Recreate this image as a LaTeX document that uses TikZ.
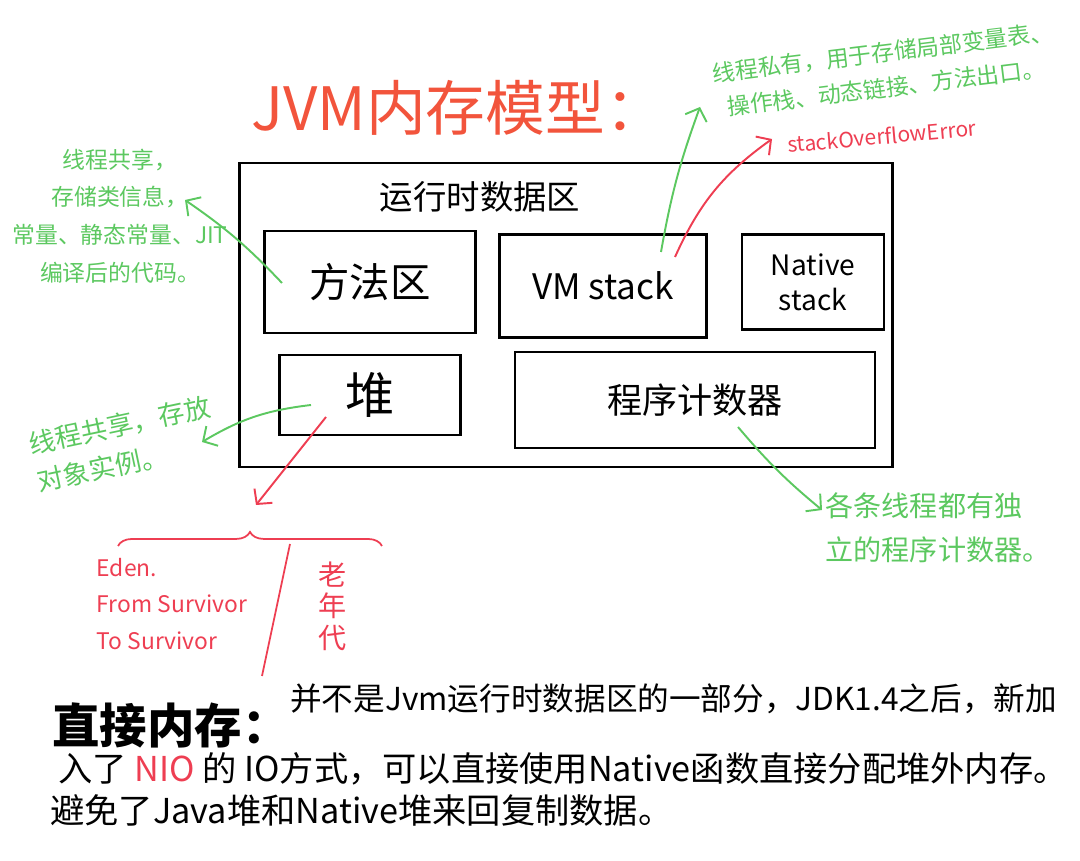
\documentclass[tikz,border=0pt]{standalone}
\usepackage{fontspec}
\setmainfont{Noto Sans CJK SC}
\usetikzlibrary{arrows.meta,decorations.pathreplacing}

\definecolor{grn}{RGB}{92,200,96}
\definecolor{rd}{RGB}{238,62,82}
\definecolor{ttl}{RGB}{242,84,60}

\newcommand{\fs}[2]{\fontsize{#1}{#2}\selectfont}

\begin{document}
\begin{tikzpicture}[
		x=0.02cm, y=-0.02cm,
		box/.style = {draw, line width=1.3pt, inner sep=0pt, align=center},
		gn/.style  = {text=grn, inner sep=0pt},
		rn/.style  = {text=rd, inner sep=0pt},
		g/.style   = {-{Straight Barb[length=6pt,width=13pt]}, grn, line width=1.1pt},
		r/.style   = {-{Straight Barb[length=6pt,width=13pt]}, rd, line width=1.1pt}
		]
		\useasboundingbox (0,0) rectangle (1080,861);
		
		% === === Nodes === ===
		\node[text=ttl, font=\fs{34}{38}]	(title)	at	(458,108)	{JVM内存模型：};
		
		\node[box, minimum width=13.06cm, minimum height=6.08cm]	(area)	at	(566,315)	{};
		\node[font=\fs{19}{23}]	(lbl)	at	(480,197)	{运行时数据区};
		
		\node[box, minimum width=4.22cm, minimum height=2.04cm, font=\fs{23}{28}]	(meth)	at	(370,282)	{方法区};
		\node[box, minimum width=4.14cm, minimum height=2.06cm, font=\fs{20}{24}]	(vms)	at	(603,286)	{VM stack};
		\node[box, minimum width=2.84cm, minimum height=1.90cm, font=\fs{16}{20}]	(nats)	at	(813,282)	{Native\\stack};
		\node[box, minimum width=3.62cm, minimum height=1.60cm, font=\fs{28}{32}]	(heap)	at	(370,395)	{堆};
		\node[box, minimum width=7.20cm, minimum height=1.92cm, font=\fs{20}{24}]	(pc)	at	(695,400)	{程序计数器};
		
		\node[gn, align=center, font=\fs{13}{21.5}]	(nMeth)	at	(120,216)	{线程共享，\\存储类信息，\\常量、静态常量、JIT\\编译后的代码。};
		\node[gn, align=left, rotate=12, font=\fs{15}{22}]	(nHeap)	at	(124,444)	{线程共享，存放\\对象实例。};
		\node[gn, align=left, rotate=7, font=\fs{13}{20}]	(nVms)	at	(885,70)	{线程私有，用于存储局部变量表、\\\ \ 操作栈、动态链接、方法出口。};
		\node[rn, rotate=5, font=\fs{12}{14}]	(sof)	at	(882,136)	{stackOverflowError};
		\node[gn, align=left, font=\fs{16}{25}]	(nPc)	at	(938,528)	{各条线程都有独\\立的程序计数器。};
		
		\node[rn, align=left, font=\fs{13}{21}]	(young)	at	(172,604)	{Eden.\\From Survivor\\To Survivor};
		\node[rn, align=center, font=\fs{16}{18}]	(old)	at	(333,606)	{老\\年\\代};
		\coordinate	(brL)	at	(118,546);
		\coordinate	(brR)	at	(382,546);
		\coordinate	(brTip)	at	(256,505);
		
		\node[anchor=base west, inner sep=0pt, font=\fs{27}{30}\bfseries]	(dm)	at	(52,744)	{直接内存：};
		\node[anchor=base west, inner sep=0pt, font=\fs{18}{22}]	(dm1)	at	(290,711)	{并不是Jvm运行时数据区的一部分，JDK1.4之后，新加};
		\node[anchor=base west, inner sep=0pt, font=\fs{19.5}{22}]	(dm2)	at	(58,782)	{入了 {\color{rd}NIO} 的 IO方式，可以直接使用Native函数直接分配堆外内存。};
		\node[anchor=base west, inner sep=0pt, font=\fs{19.5}{22}]	(dm3)	at	(50,824)	{避免了Java堆和Native堆来回复制数据。};
		
		% === === Lines === ===
		\draw[g]	([shift={(-88,1)}]meth.center)	to[bend right=6]	([shift={(65,-16)}]nMeth.center);
		\draw[g]	([shift={(-59,10)}]heap.center)	to[bend right=12]	([shift={(78,-2)}]nHeap.center);
		\draw[g]	([shift={(58,-34)}]vms.center)	to[bend left=5]	([shift={(-185,37)}]nVms.center);
		\draw[r]	([shift={(72,-29)}]vms.center)	to[bend left=15]	([shift={(-110,3)}]sof.center);
		\draw[g]	([shift={(43,27)}]pc.center)	to[bend right=5]	([shift={(-116,-18)}]nPc.center);
		\draw[r]	([shift={(-44,22)}]heap.center)	to	(brTip);
		
		\draw[rd, line width=1pt, decorate, decoration={brace, amplitude=8pt}]	(brL)	--	(brR);
		\draw[rd, line width=1pt]	(290,544)	--	(262,676);
		
	\end{tikzpicture}
\end{document}
